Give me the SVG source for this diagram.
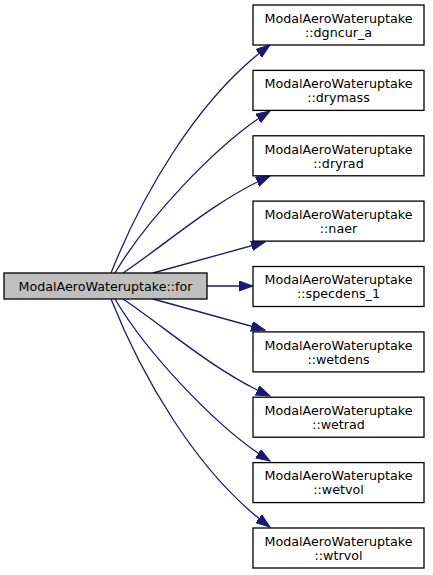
<svg xmlns="http://www.w3.org/2000/svg" width="433" height="575" viewBox="0 0 433 575">
<style>
.box{fill:#ffffff;stroke:#000000;stroke-width:1.3}
.main{fill:#bfbfbf;stroke:#000000;stroke-width:1.3}
text{font-family:"DejaVu Sans","Liberation Sans",sans-serif;font-size:12.7px;fill:#000000;text-anchor:middle}
.edge{fill:none;stroke:#191970;stroke-width:1.3;marker-end:url(#arr)}
</style>
<defs>
<marker id="arr" markerUnits="userSpaceOnUse" markerWidth="16" markerHeight="12" refX="14" refY="5" orient="auto" viewBox="0 0 16 12">
<path d="M0,0 L14,5 L0,10 z" fill="#191970" stroke="#191970" stroke-width="1"/>
</marker>
</defs>
<rect width="433" height="575" fill="#ffffff"/>
<g id="edges">
<path class="edge" d="M111,273 C140,200 195,100 270,45"/>
<path class="edge" d="M115,273 C145,222 215,145 270,111"/>
<path class="edge" d="M123,273 C165,245 215,200 270,176"/>
<path class="edge" d="M153,273 C185,264 225,253 265,242"/>
<path class="edge" d="M207,286 L253,286"/>
<path class="edge" d="M153,299 C185,308 225,319 265,330"/>
<path class="edge" d="M123,299 C165,327 215,372 270,396"/>
<path class="edge" d="M115,299 C145,350 215,427 270,461"/>
<path class="edge" d="M111,299 C140,372 195,472 270,527"/>
</g>
<g id="node_for">
<rect class="main" x="4" y="273" width="203" height="26"/>
<text x="105.5" y="290.7">ModalAeroWateruptake::for</text>
</g>
<g id="node_dgncur_a">
<rect class="box" x="253" y="5" width="171" height="40"/>
<text x="338.5" y="22.7">ModalAeroWateruptake</text>
<text x="338.5" y="36.7">::dgncur_a</text>
</g>
<g id="node_drymass">
<rect class="box" x="253" y="70.4" width="171" height="40"/>
<text x="338.5" y="88.1">ModalAeroWateruptake</text>
<text x="338.5" y="102.1">::drymass</text>
</g>
<g id="node_dryrad">
<rect class="box" x="253" y="135.8" width="171" height="40"/>
<text x="338.5" y="153.5">ModalAeroWateruptake</text>
<text x="338.5" y="167.5">::dryrad</text>
</g>
<g id="node_naer">
<rect class="box" x="253" y="201.1" width="171" height="40"/>
<text x="338.5" y="218.8">ModalAeroWateruptake</text>
<text x="338.5" y="232.8">::naer</text>
</g>
<g id="node_specdens_1">
<rect class="box" x="253" y="266.5" width="171" height="40"/>
<text x="338.5" y="284.2">ModalAeroWateruptake</text>
<text x="338.5" y="298.2">::specdens_1</text>
</g>
<g id="node_wetdens">
<rect class="box" x="253" y="331.9" width="171" height="40"/>
<text x="338.5" y="349.6">ModalAeroWateruptake</text>
<text x="338.5" y="363.6">::wetdens</text>
</g>
<g id="node_wetrad">
<rect class="box" x="253" y="397.2" width="171" height="40"/>
<text x="338.5" y="414.9">ModalAeroWateruptake</text>
<text x="338.5" y="428.9">::wetrad</text>
</g>
<g id="node_wetvol">
<rect class="box" x="253" y="462.6" width="171" height="40"/>
<text x="338.5" y="480.3">ModalAeroWateruptake</text>
<text x="338.5" y="494.3">::wetvol</text>
</g>
<g id="node_wtrvol">
<rect class="box" x="253" y="528" width="171" height="40"/>
<text x="338.5" y="545.7">ModalAeroWateruptake</text>
<text x="338.5" y="559.7">::wtrvol</text>
</g>
</svg>
